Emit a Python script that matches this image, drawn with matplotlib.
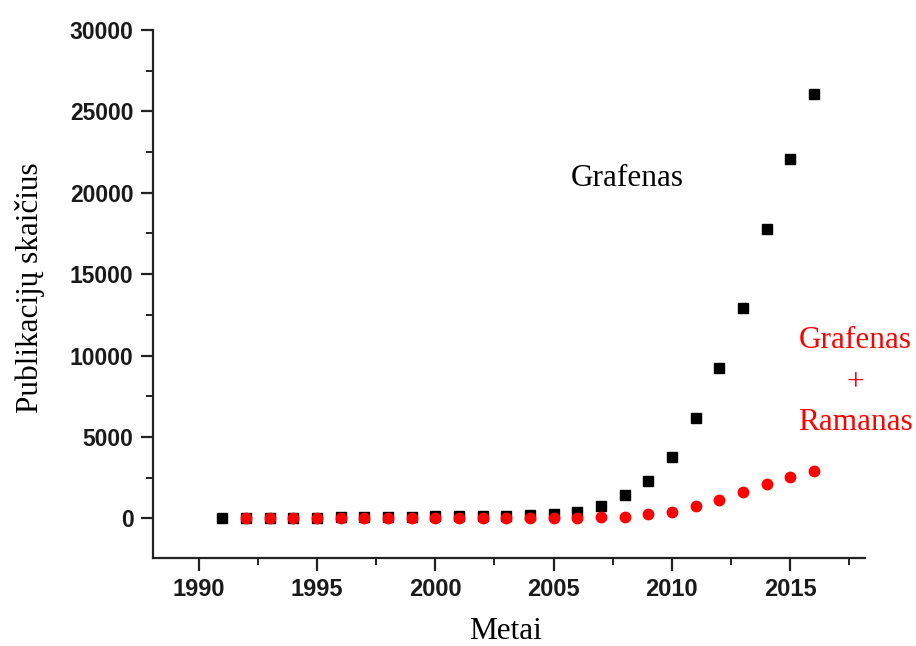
import numpy as np
import matplotlib
matplotlib.use("Agg")
import matplotlib.pyplot as plt
from matplotlib.ticker import MultipleLocator

# publikacijų skaičius pagal metus
metai_grafenas = list(range(1991, 2017))
grafenas = [20, 25, 30, 35, 40, 90, 100, 100, 100, 110, 160, 170, 170, 180,
            260, 380, 760, 1420, 2260, 3760, 6150, 9250, 12950, 17800, 22100, 26100]

metai_raman = list(range(1992, 2017))
grafenas_raman = [5, 5, 5, 5, 10, 10, 10, 10, 10, 15, 15, 20, 20, 25, 30,
                  70, 100, 240, 400, 760, 1100, 1620, 2120, 2540, 2920]

x_ticks = [1990, 1995, 2000, 2005, 2010, 2015]
y_ticks = [0, 5000, 10000, 15000, 20000, 25000, 30000]

serif = ["Liberation Serif", "DejaVu Serif"]
sans = ["Liberation Sans", "DejaVu Sans"]

fig = plt.figure(figsize=(9.16, 6.46), dpi=100)
ax = fig.add_axes([0.167, 0.136, 0.777, 0.8175])

ax.plot(metai_grafenas, grafenas, ls="none", marker="s", ms=7.2,
        color="black", mec="black")
ax.plot(metai_raman, grafenas_raman, ls="none", marker="o", ms=7.5,
        color="#ff0000", mec="#ff0000")

ax.set_xlim(1988.07, 2018.15)
ax.set_ylim(-2450, 30000)

for side in ["top", "right"]:
    ax.spines[side].set_visible(False)
for side in ["left", "bottom"]:
    ax.spines[side].set_linewidth(1.6)
    ax.spines[side].set_color("#222222")

ax.set_xticks(x_ticks)
ax.set_yticks(y_ticks)
ax.xaxis.set_minor_locator(MultipleLocator(2.5))
ax.yaxis.set_minor_locator(MultipleLocator(2500))
ax.tick_params(which="major", direction="out", length=9, width=1.6,
               color="#222222", pad=5)
ax.tick_params(which="minor", direction="out", length=5, width=1.4,
               color="#222222")
ax.tick_params(axis="x", which="major", pad=5)

for lab in ax.get_xticklabels():
    lab.set_family(sans)
    lab.set_fontweight("bold")
    lab.set_fontsize(17)
    lab.set_color("#1a1a1a")
for lab in ax.get_yticklabels():
    lab.set_family(sans)
    lab.set_fontweight("bold")
    lab.set_fontsize(16.5)
    lab.set_color("#1a1a1a")

# ašių pavadinimai
fig.text(505 / 916, 1 - 639 / 646, "Metai", family=serif, fontsize=22.5,
         ha="center", va="baseline")
fig.text(30 / 916, 1 - 288 / 646, "Publikacijų skaičius", family=serif,
         fontsize=22.5, ha="center", va="center", rotation=90)

# užrašai prie taškų
fig.text(627 / 916, 1 - 178 / 646, "Grafenas", family=serif, fontsize=22.5,
         ha="center", va="center", color="black")
fig.text(855 / 916, 1 - 340 / 646, "Grafenas", family=serif, fontsize=22.5,
         ha="center", va="center", color="#ff0000")
fig.text(855 / 916, 1 - 383 / 646, "+", family=serif, fontsize=22.5,
         ha="center", va="center", color="#ff0000")
fig.text(855 / 916, 1 - 423 / 646, "Ramanas", family=serif, fontsize=22.5,
         ha="center", va="center", color="#ff0000")

fig.savefig("out.png", dpi=100)
